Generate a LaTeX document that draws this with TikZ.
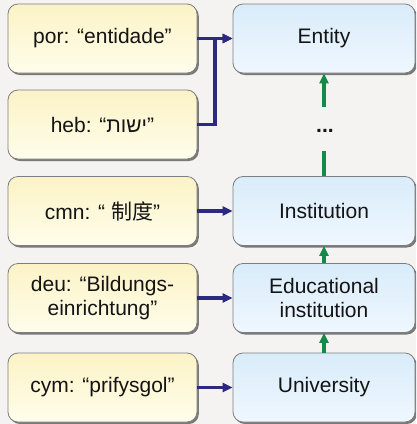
\documentclass[tikz,border=0pt]{standalone}
\usepackage{fontspec}
\setmainfont{Liberation Sans}
\newfontfamily\hebfont[Script=Hebrew]{Liberation Sans}
\newfontfamily\cjk{Noto Sans CJK SC}
\TeXXeTstate=1
\usetikzlibrary{arrows.meta,shadows}
\definecolor{bgcol}{HTML}{F4F3F2}
\definecolor{yeltop}{HTML}{FBF3C6}
\definecolor{yelbot}{HTML}{FFFDEB}
\definecolor{bluetop}{HTML}{D9ECFA}
\definecolor{bluebot}{HTML}{EFF7FE}
\definecolor{edgecol}{HTML}{7E7E7E}
\definecolor{navy}{HTML}{2B2A80}
\definecolor{isagreen}{HTML}{14894A}
\definecolor{txt}{HTML}{141414}
\tikzset{
  box/.style={draw=edgecol, line width=0.8pt, rounded corners=10pt,
    minimum height=69pt, align=center, text=txt,
    font=\fontsize{21}{24}\selectfont,
    drop shadow={shadow xshift=1.8pt, shadow yshift=-2pt, fill=black, opacity=0.5}},
  term/.style={box, minimum width=189pt, top color=yeltop, bottom color=yelbot},
  concept/.style={box, minimum width=182pt, top color=bluetop, bottom color=bluebot},
  lexlink/.style={draw=navy, line width=3.2pt, -{Triangle[length=10pt,width=9pt]}},
  isa/.style={draw=isagreen, line width=3.2pt},
  isaarrow/.style={isa, -{Triangle[length=10pt,width=9pt]}}
}
\begin{document}
\begin{tikzpicture}[x=1pt, y=-1pt]
  \useasboundingbox (0,0) rectangle (416,424);
  \fill[bgcol] (0,0) rectangle (416,424);
  \clip (0,0) rectangle (416,424);

  % language-specific terms
  \node[term] (por) at (102.5,38.5) {por: “entidade”};
  \node[term] (heb) at (102.5,124.5) {heb: “{\hebfont\beginR ישות\endR}”};
  \node[term] (cmn) at (102.5,211) {cmn: “ {\cjk 制度}”};
  \node[term] (deu) at (102.5,298) {deu: “Bildungs-\\einrichtung”};
  \node[term] (cym) at (102.5,387.5) {cym: “prifysgol”};

  % concept hierarchy
  \node[concept] (entity) at (324,38.5) {Entity};
  \node[concept] (inst) at (324,211) {Institution};
  \node[concept] (edu) at (324,298) {Educational\\institution};
  \node[concept] (univ) at (324,387.5) {University};
  \node[font=\fontsize{21}{24}\selectfont\bfseries, text=txt] (dots) at (325,131) {...};
  \coordinate (gapTop) at (324,107);
  \coordinate (gapBot) at (324,151);

  % lexicalisation links
  \draw[lexlink] (por.east) -- (entity.west);
  \draw[lexlink] (heb.east) -- (215,124.5) |- (entity.west);
  \draw[lexlink] (cmn.east) -- (inst.west);
  \draw[lexlink] (deu.east) -- (edu.west);
  \draw[lexlink] (cym.east) -- (univ.west);

  % is-a links
  \draw[isaarrow] (gapTop) -- (entity.south);
  \draw[isa] (inst.north) -- (gapBot);
  \draw[isaarrow] (edu.north) -- (inst.south);
  \draw[isaarrow] (univ.north) -- (edu.south);
\end{tikzpicture}
\end{document}
